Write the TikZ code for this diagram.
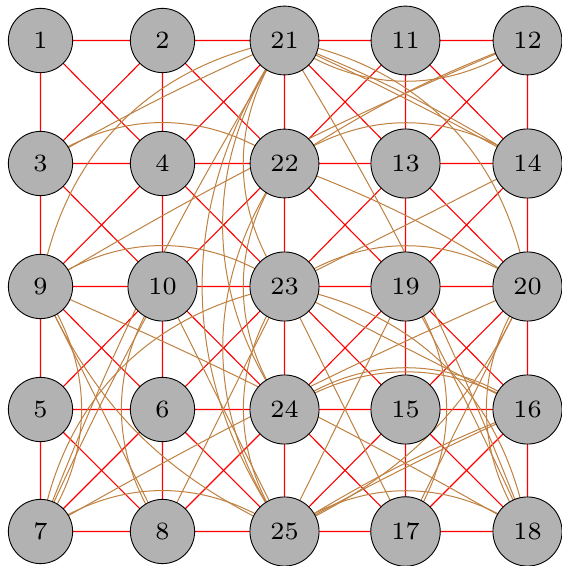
\documentclass[tikz,border=0pt]{standalone}
\usetikzlibrary{backgrounds}
\definecolor{kred}{RGB}{255,0,0}
\definecolor{kbrown}{RGB}{191,128,64}
\begin{document}
\begin{tikzpicture}[x=1pt,y=1pt,
  vtx/.style={circle,draw=black,line width=0.9pt,fill=gray!60,font=\fontsize{7}{8}\selectfont,scale=3.55,transform shape,inner sep=3.66pt,minimum size=18.1pt},
  kedge/.style={draw=kred,line width=1.1pt},
  bedge/.style={draw=kbrown,line width=1pt}]
\useasboundingbox (0,0) rectangle (562,566);
\foreach \n/\cx/\cy in {1/40.5/525.5,2/162.5/525.5,21/284.5/525.5,11/405.5/525.5,12/527.5/525.5,
                      3/40.5/402.5,4/162.5/402.5,22/284.5/402.5,13/405.5/402.5,14/527.5/402.5,
                      9/40.5/279.5,10/162.5/279.5,23/284.5/279.5,19/405.5/279.5,20/527.5/279.5,
                      5/40.5/156.5,6/162.5/156.5,24/284.5/156.5,15/405.5/156.5,16/527.5/156.5,
                      7/40.5/34.5,8/162.5/34.5,25/284.5/34.5,17/405.5/34.5,18/527.5/34.5}
  \coordinate (p\n) at (\cx,\cy);
\foreach \n in {1,...,25}
  \node[vtx] (n\n) at (p\n) {\n};
\begin{scope}[on background layer]
\foreach \a/\b in {1/2,2/21,21/11,11/12,3/4,4/22,22/13,13/14,9/10,10/23,23/19,19/20,5/6,6/24,24/15,15/16,7/8,8/25,25/17,17/18,
  1/3,3/9,9/5,5/7,2/4,4/10,10/6,6/8,21/22,22/23,23/24,24/25,11/13,13/19,19/15,15/17,12/14,14/20,20/16,16/18,
  1/4,2/3,2/22,21/4,21/13,11/22,11/14,12/13,
  3/10,4/9,4/23,22/10,22/19,13/23,13/20,14/19,
  9/6,10/5,10/24,23/6,23/15,19/24,19/16,20/15,
  5/8,6/7,6/25,24/8,24/17,15/25,15/18,16/17}
  \draw[kedge] (n\a.center) -- ([shift={(0.05pt,0.05pt)}]n\b.center);
\foreach \a/\b/\bd in {3/21/3,9/12/4,22/12/6,21/14/2,21/14/5,22/20/6,23/14/0,23/16/0,
   7/20/3,9/18/3,25/16/2,25/16/5,21/7/-5,10/7/-2,21/18/5,19/18/2,
   10/25/0,19/25/0,23/8/0,23/17/0,9/8/0,20/17/0,
   3/22/35,22/14/35,21/12/-35,9/23/35,23/20/35,7/25/35,25/18/35,24/16/36,24/16/32,
   9/21/35,21/20/35,7/23/35,23/18/35,9/7/35,20/18/-35,10/8/-35,19/17/35,
   21/23/-35,22/24/-35,23/25/-35,21/24/-35,22/25/-35,21/25/-35,
   9/25/-20,20/25/20}
  \draw[bedge] (n\a.center) to[bend left=\bd] (n\b.center);
\end{scope}
\end{tikzpicture}
\end{document}
